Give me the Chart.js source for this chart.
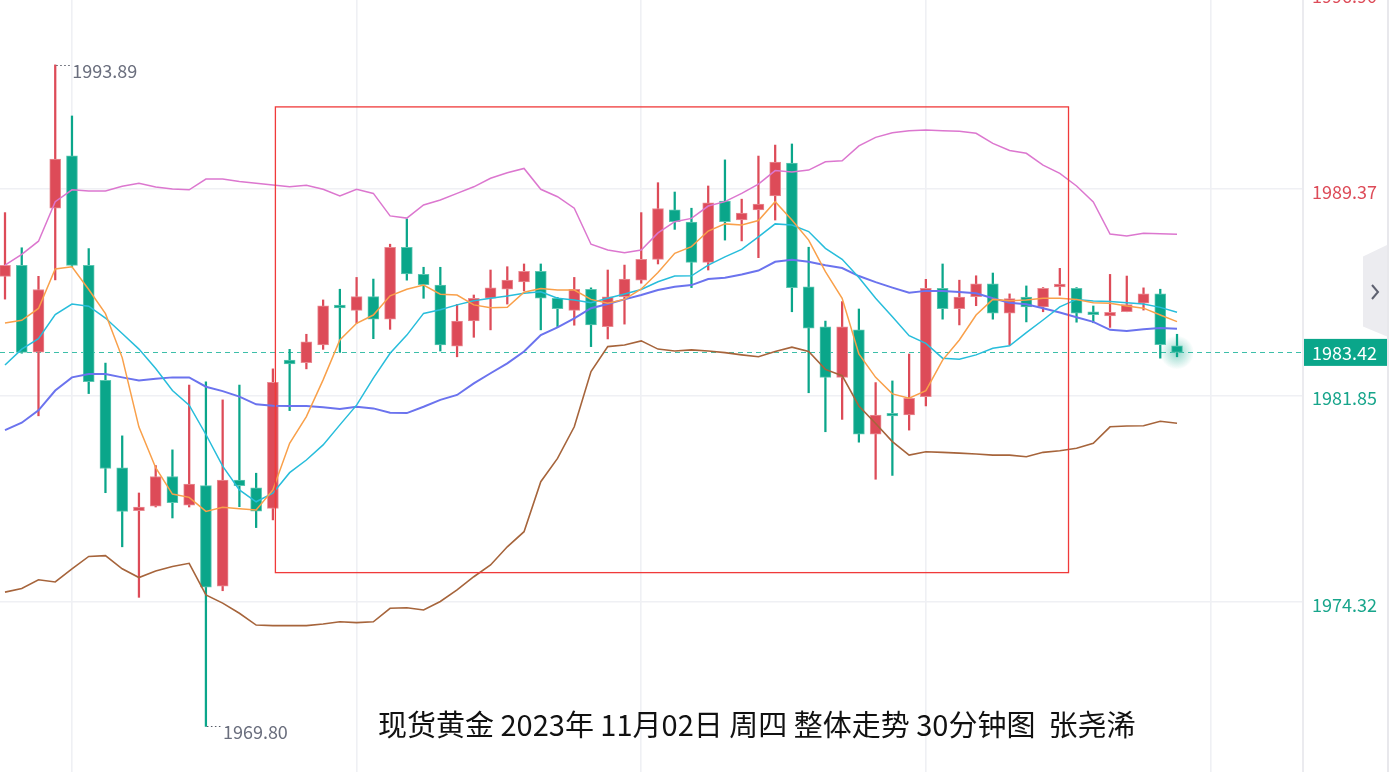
<!DOCTYPE html>
<html>
<head>
<meta charset="utf-8">
<script src="https://cdn.jsdelivr.net/npm/chart.js"></script>
<style>
  html, body { margin: 0; padding: 0; background: #fff; }
  #wrap { position: relative; width: 1389px; height: 772px; overflow: hidden; }
  #caption {
    position: absolute; left: 378px; top: 702px;
    font-family: "Noto Sans CJK SC"; font-size: 29px; color: #111; white-space: pre;
  }
</style>
</head>
<body>
<div id="wrap">
  <canvas id="kline" width="1389" height="772"></canvas>
  <div id="caption">现货黄金 2023年 11月02日 周四 整体走势 30分钟图  张尧浠</div>
</div>
<script>
// 30-minute candles, gold spot, 2023-11-02
const opens  = [1986.19,1986.59,1983.43,1988.67,1990.58,1986.59,1982.40,1979.22,1977.66,1977.82,
                1978.90,1977.86,1978.57,1974.91,1978.77,1978.49,1977.74,1983.14,1983.05,1983.69,
                1985.12,1984.95,1985.45,1984.63,1987.25,1986.26,1985.87,1983.65,1984.57,1985.39,
                1985.72,1985.99,1986.37,1985.39,1984.95,1985.72,1984.36,1985.45,1986.05,1986.81,
                1988.61,1988.17,1986.70,1988.93,1988.24,1988.61,1989.12,1990.31,1985.81,1984.35,
                1982.51,1984.24,1980.44,1981.18,1981.14,1981.81,1985.75,1985.01,1985.45,1985.92,
                1984.85,1985.43,1985.08,1985.84,1985.75,1984.88,1984.75,1984.90,1985.21,1985.55,
                1983.66];
const highs  = [1988.51,1987.23,1986.19,1993.89,1992.03,1987.20,1983.03,1980.38,1978.30,1979.30,
                1979.87,1982.23,1982.35,1981.69,1982.23,1979.02,1982.82,1983.53,1984.08,1985.33,
                1985.72,1986.15,1986.09,1987.36,1988.28,1986.52,1986.52,1985.17,1985.51,1986.42,
                1986.54,1986.64,1986.64,1985.42,1986.15,1985.77,1986.42,1986.60,1988.51,1989.60,
                1989.26,1988.67,1989.48,1990.43,1989.00,1990.57,1990.97,1991.01,1987.25,1984.56,
                1985.27,1985.00,1982.32,1982.38,1983.36,1986.08,1986.64,1986.05,1986.21,1986.31,
                1985.55,1985.84,1985.78,1986.48,1985.78,1985.11,1986.26,1986.20,1985.77,1985.72,
                1984.08];
const lows   = [1985.36,1983.39,1981.11,1986.06,1986.54,1981.92,1978.31,1976.34,1974.50,1977.79,
                1977.39,1977.79,1969.80,1974.74,1977.80,1977.04,1977.32,1981.30,1982.82,1983.53,
                1983.42,1984.48,1983.92,1984.26,1986.05,1985.39,1983.47,1983.26,1983.97,1984.24,
                1985.18,1985.66,1984.24,1984.36,1984.41,1983.63,1983.91,1984.45,1985.94,1986.64,
                1987.90,1985.78,1986.42,1987.51,1987.48,1986.87,1988.24,1984.90,1981.95,1980.53,
                1980.98,1980.15,1978.80,1978.94,1980.59,1981.47,1984.63,1984.42,1985.12,1984.63,
                1983.68,1984.53,1984.90,1985.50,1984.52,1984.50,1984.33,1984.90,1984.96,1983.21,
                1983.26];
const closes = [1986.59,1983.42,1985.71,1990.46,1986.59,1982.35,1979.19,1977.63,1977.79,1978.90,
                1977.95,1978.62,1974.87,1978.77,1978.57,1977.64,1982.33,1983.00,1983.80,1985.12,
                1985.06,1985.45,1984.63,1987.25,1986.28,1985.89,1983.69,1984.56,1985.39,1985.77,
                1986.05,1986.37,1985.39,1985.01,1985.72,1984.42,1985.44,1986.09,1986.81,1988.66,
                1988.18,1986.70,1988.87,1988.18,1988.49,1988.82,1990.35,1985.78,1984.30,1982.51,
                1984.35,1980.44,1981.14,1981.13,1981.75,1985.75,1985.01,1985.43,1985.92,1984.85,
                1985.38,1985.08,1985.75,1985.87,1984.85,1984.81,1984.88,1985.16,1985.55,1983.70,
                1983.42];

// moving averages and Bollinger bands
const ma5 = [1984.49,1984.59,1985.02,1986.46,1986.54,1985.71,1984.83,1983.23,1980.70,1979.22,
             1978.26,1978.14,1977.63,1977.78,1977.73,1977.68,1978.41,1980.11,1981.08,1982.42,
             1983.87,1984.48,1984.78,1985.48,1985.72,1985.87,1985.54,1985.51,1985.15,1985.05,
             1985.06,1985.61,1985.75,1985.69,1985.69,1985.35,1985.21,1985.35,1985.73,1986.33,
             1987.03,1987.27,1987.84,1988.10,1988.06,1988.22,1988.91,1988.24,1987.51,1986.36,
             1985.39,1983.36,1982.51,1981.91,1981.75,1982.03,1983.14,1983.87,1984.78,1985.35,
             1985.30,1985.33,1985.39,1985.39,1985.35,1985.23,1985.21,1985.11,1985.03,1984.78,
             1984.54];
const ma10 = [1982.96,1983.54,1983.92,1984.80,1985.18,1985.10,1984.67,1984.11,1983.54,1982.83,
              1982.03,1981.50,1980.43,1979.28,1978.41,1977.98,1978.29,1979.04,1979.50,1980.05,
              1980.78,1981.50,1982.48,1983.39,1984.05,1984.84,1984.97,1985.15,1985.30,1985.39,
              1985.47,1985.57,1985.63,1985.39,1985.33,1985.23,1985.39,1985.55,1985.71,1985.99,
              1986.20,1986.21,1986.60,1986.90,1987.17,1987.63,1988.10,1988.06,1987.82,1987.21,
              1986.81,1986.15,1985.39,1984.72,1984.03,1983.75,1983.21,1983.17,1983.33,1983.57,
              1983.66,1984.14,1984.60,1985.08,1985.35,1985.29,1985.27,1985.23,1985.18,1985.06,
              1984.88];
const bollMid = [1980.59,1980.86,1981.31,1982.03,1982.51,1982.63,1982.63,1982.51,1982.40,1982.46,
                 1982.51,1982.51,1982.17,1982.01,1981.81,1981.53,1981.48,1981.47,1981.47,1981.42,
                 1981.36,1981.44,1981.38,1981.22,1981.21,1981.44,1981.69,1981.87,1982.29,1982.66,
                 1983.02,1983.45,1984.05,1984.33,1984.66,1985.03,1985.18,1985.35,1985.51,1985.69,
                 1985.81,1985.87,1986.09,1986.14,1986.26,1986.40,1986.72,1986.79,1986.72,1986.59,
                 1986.49,1986.20,1985.98,1985.78,1985.59,1985.66,1985.66,1985.62,1985.57,1985.39,
                 1985.23,1985.17,1985.03,1984.87,1984.70,1984.53,1984.24,1984.20,1984.26,1984.31,
                 1984.28];
const bollUpper = [1986.60,1986.99,1987.47,1988.91,1989.34,1989.30,1989.30,1989.47,1989.58,1989.44,
                   1989.37,1989.34,1989.73,1989.73,1989.64,1989.58,1989.52,1989.45,1989.51,1989.36,
                   1989.12,1989.36,1989.21,1988.39,1988.31,1988.79,1988.97,1989.21,1989.45,1989.76,
                   1989.96,1990.12,1989.36,1989.09,1988.67,1987.36,1987.15,1987.05,1987.15,1987.77,
                   1988.18,1988.30,1988.75,1988.91,1989.21,1989.55,1990.04,1989.99,1990.06,1990.36,
                   1990.40,1990.94,1991.25,1991.42,1991.49,1991.52,1991.49,1991.47,1991.40,1991.03,
                   1990.77,1990.67,1990.24,1989.94,1989.48,1988.90,1987.73,1987.66,1987.76,1987.74,
                   1987.72];
const bollLower = [1974.69,1974.82,1975.14,1975.06,1975.54,1975.99,1976.02,1975.54,1975.22,1975.46,
                   1975.62,1975.74,1974.59,1974.29,1973.92,1973.49,1973.47,1973.47,1973.47,1973.53,
                   1973.61,1973.58,1973.61,1974.10,1974.12,1974.04,1974.35,1974.77,1975.25,1975.68,
                   1976.34,1976.89,1978.71,1979.56,1980.71,1982.72,1983.63,1983.69,1983.84,1983.54,
                   1983.47,1983.51,1983.47,1983.41,1983.33,1983.26,1983.45,1983.61,1983.45,1982.80,
                   1982.57,1981.47,1980.83,1980.17,1979.68,1979.80,1979.78,1979.75,1979.72,1979.68,
                   1979.68,1979.62,1979.78,1979.84,1979.93,1980.11,1980.71,1980.74,1980.75,1980.91,
                   1980.84];

const priceTicks = [1974.32, 1981.85, 1989.37];
const topTick = 1996.90;
const lastPrice = 1983.42;
const gridCandles = [4, 21, 38, 55, 72];
// highlighted zone: candle index range and price range
const zoneFrom = 16.15, zoneTo = 63.52, zoneTop = 1992.36, zoneBottom = 1975.40;

const UP = '#dd4b58', DOWN = '#0aa68a';
const UP_EDGE = '#e98b93', DOWN_EDGE = '#5cc6b1';

const isUp = opens.map((o, i) => closes[i] >= o);
const bodies = opens.map((o, i) => {
  const c = closes[i];
  if (Math.abs(c - o) < 0.1) {
    const m = (c + o) / 2;
    return { x: i, y: [m - 0.05, m + 0.05] };
  }
  return { x: i, y: [Math.min(o, c), Math.max(o, c)] };
});
const wicks = highs.map((h, i) => ({ x: i, y: [lows[i], h] }));
const series = arr => arr.map((v, i) => ({ x: i, y: v }));

function lineSet(label, arr, color, width) {
  return {
    type: 'line', label, data: series(arr), borderColor: color, borderWidth: width,
    pointRadius: 0, tension: 0, fill: false, order: 0
  };
}

const overlay = {
  id: 'overlay',
  beforeDatasetsDraw(chart) {
    const { ctx, chartArea, scales: { x, y } } = chart;
    const py = Math.round(y.getPixelForValue(lastPrice)) + 0.5;
    ctx.save();
    ctx.strokeStyle = '#3dbfa9';
    ctx.lineWidth = 1;
    ctx.setLineDash([5, 4]);
    ctx.beginPath();
    ctx.moveTo(chartArea.left, py);
    ctx.lineTo(chartArea.right, py);
    ctx.stroke();
    const gx = x.getPixelForValue(opens.length - 1);
    const g = ctx.createRadialGradient(gx, py, 0, gx, py, 17);
    g.addColorStop(0, 'rgba(10,166,138,0.45)');
    g.addColorStop(1, 'rgba(10,166,138,0)');
    ctx.fillStyle = g;
    ctx.beginPath();
    ctx.arc(gx, py, 17, 0, Math.PI * 2);
    ctx.fill();
    ctx.restore();
  },
  afterDraw(chart) {
    const { ctx, chartArea, scales: { x, y } } = chart;
    ctx.save();

    // highlighted zone
    ctx.strokeStyle = '#f03a3a';
    ctx.lineWidth = 1.3;
    const rx1 = x.getPixelForValue(zoneFrom), rx2 = x.getPixelForValue(zoneTo);
    const ry1 = y.getPixelForValue(zoneTop), ry2 = y.getPixelForValue(zoneBottom);
    ctx.strokeRect(rx1, ry1, rx2 - rx1, ry2 - ry1);

    // high / low markers
    ctx.font = '18px "Noto Sans CJK SC"';
    const hi = highs.indexOf(Math.max(...highs));
    const lo = lows.indexOf(Math.min(...lows));
    [[hi, highs[hi]], [lo, lows[lo]]].forEach(([i, v]) => {
      const px = x.getPixelForValue(i), vy = Math.round(y.getPixelForValue(v)) + 0.5;
      ctx.strokeStyle = '#555a66';
      ctx.lineWidth = 1.2;
      ctx.setLineDash([1.5, 2.5]);
      ctx.beginPath();
      ctx.moveTo(px + 1, vy);
      ctx.lineTo(px + 15, vy);
      ctx.stroke();
      ctx.setLineDash([]);
      ctx.fillStyle = '#6a6e7d';
      ctx.textAlign = 'left';
      ctx.textBaseline = 'middle';
      ctx.fillText(v.toFixed(2), px + 17, vy + 5.5);
    });

    // price scale extras
    const axisLeft = chartArea.right;
    ctx.fillStyle = UP;
    ctx.textBaseline = 'alphabetic';
    ctx.fillText(topTick.toFixed(2), axisLeft + 9, 3);

    const py = y.getPixelForValue(lastPrice);
    ctx.fillStyle = DOWN;
    ctx.fillRect(axisLeft + 1, py - 13.5, 83, 27);
    ctx.fillStyle = '#ffffff';
    ctx.textBaseline = 'middle';
    ctx.fillText(lastPrice.toFixed(2), axisLeft + 9, py + 1);

    // right edge line
    ctx.fillStyle = '#e8e8ec';
    ctx.fillRect(1387, 0, 2, 772);

    // collapse button
    ctx.fillStyle = '#ececf0';
    ctx.beginPath();
    ctx.moveTo(1363, 256.5);
    ctx.lineTo(1387, 245);
    ctx.lineTo(1387, 336.5);
    ctx.lineTo(1363, 326.5);
    ctx.closePath();
    ctx.fill();
    ctx.strokeStyle = '#5e6170';
    ctx.lineWidth = 2;
    ctx.beginPath();
    ctx.moveTo(1372, 285);
    ctx.lineTo(1378, 292);
    ctx.lineTo(1372, 299);
    ctx.stroke();

    ctx.restore();
  }
};

const noPad = s => { s.paddingTop = 0; s.paddingBottom = 0; s.paddingLeft = 0; s.paddingRight = 0; };

new Chart(document.getElementById('kline'), {
  type: 'bar',
  data: {
    datasets: [
      lineSet('BOLL UP', bollUpper, '#dc77cf', 1.5),
      lineSet('MA5', ma5, '#f9a04a', 1.5),
      lineSet('MA10', ma10, '#27bddb', 1.5),
      lineSet('BOLL MID', bollMid, '#6b73ee', 2),
      lineSet('BOLL DN', bollLower, '#a6643b', 1.6),
      {
        label: 'body', data: bodies, order: 1, grouped: false, barThickness: 11,
        backgroundColor: isUp.map(u => u ? UP : DOWN),
        borderColor: isUp.map(u => u ? UP_EDGE : DOWN_EDGE),
        borderWidth: 1, borderSkipped: false
      },
      {
        label: 'wick', data: wicks, order: 2, grouped: false, barThickness: 1.6,
        backgroundColor: isUp.map(u => u ? UP : DOWN), borderWidth: 0
      }
    ]
  },
  options: {
    responsive: false,
    animation: false,
    layout: { padding: 0 },
    plugins: { legend: { display: false }, tooltip: { enabled: false } },
    scales: {
      x: {
        type: 'linear',
        offset: false,
        min: -5 / 16.743,
        max: -5 / 16.743 + 1303 / 16.743,
        afterBuildTicks: s => { s.ticks = gridCandles.map(v => ({ value: v })); },
        afterFit: s => { s.height = 0; noPad(s); },
        ticks: { display: false },
        grid: { color: '#eff0f4', lineWidth: 1.6, drawTicks: false, offset: false },
        border: { display: false }
      },
      y: {
        type: 'linear',
        position: 'right',
        min: 1968.139,
        max: 1996.253,
        afterBuildTicks: s => { s.ticks = priceTicks.map(v => ({ value: v })); },
        afterFit: s => { s.width = 86; noPad(s); },
        ticks: {
          padding: 9,
          labelOffset: 3,
          font: { family: '"Noto Sans CJK SC"', size: 18 },
          color: c => (c.tick && c.tick.value > lastPrice) ? UP : '#17a58b',
          callback: v => Number(v).toFixed(2)
        },
        grid: { color: '#eff0f4', lineWidth: 1.6, drawTicks: false },
        border: { color: '#ebebef', width: 2 }
      }
    }
  },
  plugins: [overlay]
});
</script>
</body>
</html>
